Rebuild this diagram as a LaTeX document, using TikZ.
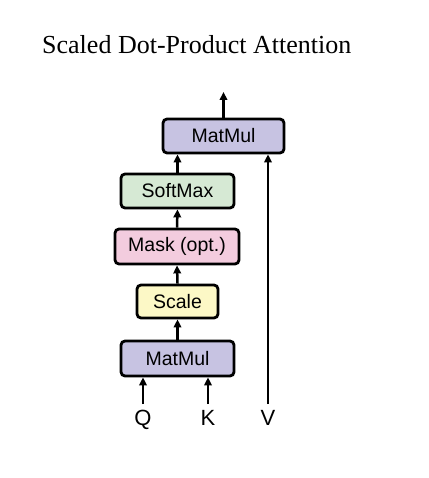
\documentclass[tikz,border=0pt]{standalone}
\usepackage{fontspec}
\setmainfont{Liberation Serif}
\setsansfont{Liberation Sans}
\usetikzlibrary{arrows.meta}
\definecolor{mmcol}{RGB}{199,195,226}
\definecolor{smcol}{RGB}{214,233,212}
\definecolor{mkcol}{RGB}{243,204,222}
\definecolor{sccol}{RGB}{252,248,198}
\tikzset{
  blk/.style={draw=black, line width=2.8pt, rounded corners=4pt, font=\sffamily\fontsize{19.5}{19.5}\selectfont, inner sep=0pt, anchor=center},
  arr/.style={line width=2.5pt, -{Triangle[length=8pt,width=7.5pt]}},
  lbl/.style={font=\sffamily\fontsize{22}{22}\selectfont, inner sep=0pt, anchor=base}
}
\begin{document}
\begin{tikzpicture}[x=1pt,y=-1pt]
\useasboundingbox (0,0) rectangle (428,478);
\node[anchor=base west, inner sep=0pt, font=\fontsize{26}{26}\selectfont] (title) at (42,54) {Scaled Dot-Product Attention};
\node[blk, fill=mmcol, minimum width=121pt, minimum height=34pt] (mm2) at (223.5,136) {MatMul};
\node[blk, fill=smcol, minimum width=113pt, minimum height=34pt] (sm) at (177.5,191) {SoftMax};
\node[blk, fill=mkcol, minimum width=124pt, minimum height=35pt] (mk) at (177,246.5) {Mask (opt.)};
\node[blk, fill=sccol, minimum width=81pt, minimum height=33pt] (sc) at (177.5,301.5) {Scale};
\node[blk, fill=mmcol, minimum width=113pt, minimum height=35pt] (mm1) at (177.5,358.5) {MatMul};
\node[lbl] (q) at (143,425.5) {Q};
\node[lbl] (k) at (208,425.5) {K};
\node[lbl] (v) at (268,425.5) {V};
\coordinate (out) at (223.5,92);
\coordinate (qs) at (143,404);
\coordinate (ks) at (208,404);
\coordinate (vs) at (268,404);
\draw[arr] (qs) -- (qs |- mm1.south);
\draw[arr] (ks) -- (ks |- mm1.south);
\draw[arr] (vs) -- (vs |- mm2.south);
\draw[arr] (mm1.north) -- (sc.south);
\draw[arr] (sc.north) -- (mk.south);
\draw[arr] (mk.north) -- (sm.south);
\draw[arr] (sm.north) -- (sm.north |- mm2.south);
\draw[arr] (mm2.north) -- (out);
\end{tikzpicture}
\end{document}
